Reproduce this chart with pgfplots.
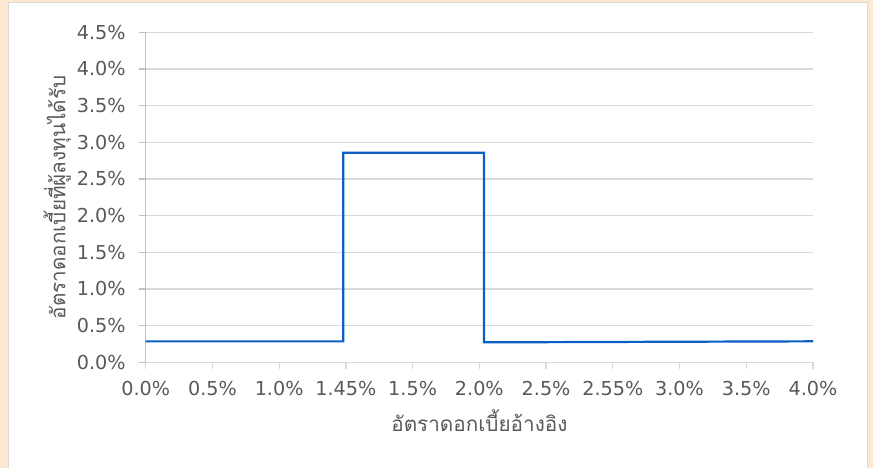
\documentclass[border=0pt]{standalone}
\usepackage{fontspec}
\setmainfont{DejaVu Sans}
\newfontfamily\thaifont[Script=Thai]{Loma}
\usepackage{pgfplots}
\pgfplotsset{compat=1.18}
\definecolor{peach}{HTML}{FDE9D1}
\definecolor{frame}{HTML}{D9D9D9}
\definecolor{gridc}{HTML}{D9D9D9}
\definecolor{txt}{HTML}{595959}
\definecolor{yax}{HTML}{BFBFBF}
\definecolor{lineblue}{HTML}{0B5EC4}
\begin{document}
\begin{tikzpicture}
\useasboundingbox (0,0) rectangle (873pt,468pt);
\fill[peach] (0,0) rectangle (873pt,468pt);
\filldraw[fill=white,draw=frame,line width=1pt] (8.5pt,-5pt) rectangle (867pt,465pt);
\begin{axis}[
  at={(145.7pt,105.7pt)}, anchor=south west,
  scale only axis, width=667.3pt, height=330pt,
  xmin=0, xmax=10, ymin=0, ymax=4.5,
  axis x line*=bottom, axis y line*=left,
  x axis line style={draw=gridc,line width=1.3pt,-},
  y axis line style={draw=yax,line width=1.3pt,-},
  tick align=outside, major tick length=6.5pt,
  xtick={0,1,...,10},
  xticklabels={0.0\%,0.5\%,1.0\%,1.45\%,1.5\%,2.0\%,2.5\%,2.55\%,3.0\%,3.5\%,4.0\%},
  ytick={0,0.5,...,4.5},
  yticklabel={\pgfmathprintnumber[fixed,fixed zerofill,precision=1]{\tick}\%},
  /pgf/number format/assume math mode=true,
  x tick style={draw=gridc,line width=1.3pt},
  y tick style={draw=yax,line width=1.3pt},
  ymajorgrids, major grid style={draw=gridc,line width=1.3pt},
  ticklabel style={text=txt,font=\fontsize{19.2}{22}\selectfont},
  xticklabel style={yshift=-9pt},
  yticklabel style={xshift=-10pt},
  xlabel={\thaifont อัตราดอกเบี้ยอ้างอิง},
  ylabel={\thaifont อัตราดอกเบี้ยที่ผู้ลงทุนได้รับ},
  label style={text=txt,font=\fontsize{20.7}{24}\selectfont},
  xlabel style={at={(axis description cs:0.5,-0.176)},anchor=center},
  ylabel style={at={(axis description cs:-0.1329,0.5)},anchor=center},
  clip=false,
]
\addplot[lineblue,line width=2.2pt,line join=miter] coordinates {
 (0,0.285) (2.96,0.285) (2.96,2.858) (5.07,2.858) (5.07,0.272) (10,0.286)
};
\end{axis}
\end{tikzpicture}
\end{document}
